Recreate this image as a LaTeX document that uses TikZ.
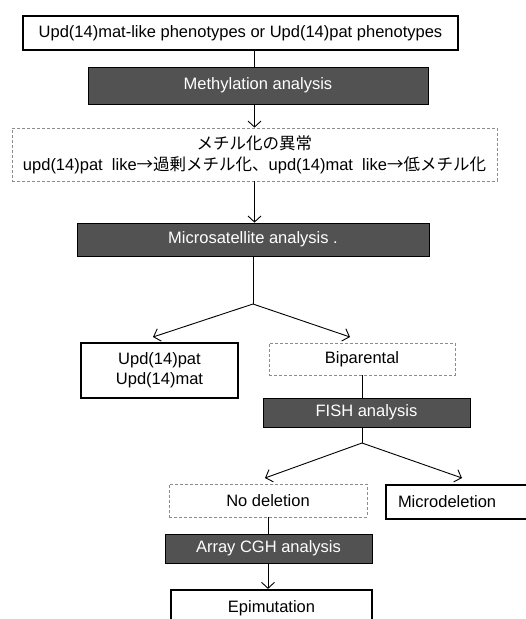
\documentclass[tikz,border=0pt]{standalone}
\usepackage{fontspec}
\setmainfont{Liberation Sans}
\newfontfamily\jp{Noto Sans CJK JP}
\usetikzlibrary{arrows.meta}
\begin{document}
\begin{tikzpicture}[x=1pt,y=-1pt,
  every node/.style={font=\fontsize{16.5}{20}\selectfont, inner sep=0pt, align=center},
  thickbox/.style={draw=black, line width=2.2pt, fill=white},
  darkbox/.style={draw=black, line width=0.8pt, fill=black!68, text=white},
  dashbox/.style={draw=black!45, line width=0.7pt, densely dashed, fill=white},
  conn/.style={draw=black, line width=0.9pt},
  arr/.style={conn, -{Straight Barb[length=6pt,width=13pt,line width=0.9pt]}}
]
\useasboundingbox (0,0) rectangle (526,619);
\clip (0,0) rectangle (526,619);

% nodes
\node[thickbox, minimum width=435pt, minimum height=34pt] (top) at (240.5,33)
  {Upd(14)mat-like phenotypes or Upd(14)pat phenotypes};
\node[darkbox, minimum width=340pt, minimum height=37pt] (meth) at (258,85.5)
  {Methylation analysis};
\node[dashbox, minimum width=485pt, minimum height=53pt, font=\fontsize{16.5}{21}\selectfont] (jpbox) at (254.5,154.5)
  {{\jp メチル化の異常}\\upd(14)pat\ \ like{\jp →過剰メチル化、}upd(14)mat\ \ like{\jp →低メチル化}};
\node[darkbox, minimum width=352pt, minimum height=33pt] (micro) at (253,239.5)
  {Microsatellite analysis .};
\node[thickbox, minimum width=157pt, minimum height=55pt] (upd) at (159.5,370.5)
  {Upd(14)pat\\Upd(14)mat};
\node[dashbox, minimum width=186pt, minimum height=32pt] (bip) at (362,359)
  {Biparental};
\node[darkbox, minimum width=207pt, minimum height=29pt] (fish) at (366.5,412.5)
  {FISH analysis};
\node[dashbox, minimum width=198pt, minimum height=33pt] (nodel) at (268,500.5)
  {No deletion};
\node[thickbox, minimum width=149pt, minimum height=34pt, text width=125pt, align=left, inner xsep=12pt] (mdel) at (460.5,502)
  {Microdeletion};
\node[darkbox, minimum width=207pt, minimum height=29pt] (cgh) at (268.5,548.5)
  {Array CGH analysis};
\node[thickbox, minimum width=201pt, minimum height=36pt] (epi) at (271.5,608)
  {Epimutation};

% branch coordinates
\coordinate (br1) at (253,304);
\coordinate (a1) at (153,337);
\coordinate (a2) at (350,337);
\coordinate (br2) at (362,443);
\coordinate (a3) at (265,478);
\coordinate (a4) at (462,478);

% connectors
\draw[conn] (top.south -| jpbox.north) -- (meth.north -| jpbox.north);
\draw[arr] (meth.south -| jpbox.north) -- (jpbox.north);
\draw[arr] (jpbox.south) -- (micro.north -| jpbox.south);
\draw[conn] (micro.south -| br1) -- (br1);
\draw[arr] (br1) -- (a1);
\draw[arr] (br1) -- (a2);
\draw[conn] (bip.south) -- (bip.south |- fish.north);
\draw[conn] (bip.south |- fish.south) -- (br2);
\draw[arr] (br2) -- (a3);
\draw[arr] (br2) -- (a4);
\draw[conn] (nodel.south) -- (nodel.south |- cgh.north);
\draw[arr] (nodel.south |- cgh.south) -- (nodel.south |- epi.north);
\end{tikzpicture}
\end{document}
